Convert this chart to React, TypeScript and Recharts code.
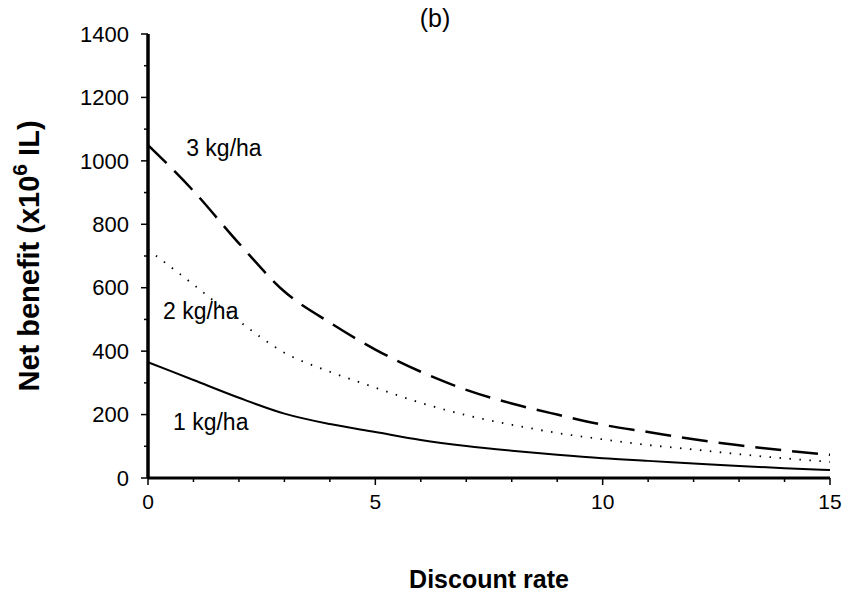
import React from 'react';
import { LineChart, Line, XAxis, YAxis, ReferenceDot } from 'recharts';

// discount rate (%)
const rates = [0, 1, 2, 3, 4, 5, 6, 7, 8, 9, 10, 11, 12, 13, 14, 15];
// net benefit (x10^6 IL) for each application rate
const oneKg = [365, 309, 253, 203, 170, 145, 120, 101, 86, 73, 62, 54, 46, 38, 31, 25];
const twoKg = [720, 610, 495, 395, 335, 285, 237, 198, 168, 142, 122, 104, 90, 75, 62, 51];
const threeKg = [1050, 905, 740, 588, 490, 405, 335, 278, 235, 200, 168, 145, 122, 103, 87, 73];

// all tick positions; labels only on the major ones
const xTicks = [0, 1, 2, 3, 4, 5, 6, 7, 8, 9, 10, 11, 12, 13, 14, 15];
const xLabelled = [0, 5, 10, 15];
const yTicks = [0, 100, 200, 300, 400, 500, 600, 700, 800, 900, 1000, 1100, 1200, 1300, 1400];
const yLabelled = [0, 200, 400, 600, 800, 1000, 1200, 1400];

const curveLabels = [
  { text: '3 kg/ha', x: 0.84, y: 1040 },
  { text: '2 kg/ha', x: 0.33, y: 527 },
  { text: '1 kg/ha', x: 0.55, y: 177 },
];

const FONT = 'Arial, "Liberation Sans", sans-serif';

const data = rates.map((r, i) => ({
  rate: r,
  one: oneKg[i],
  two: twoKg[i],
  three: threeKg[i],
}));

const XTick = (props: any) => {
  const { x, y, payload } = props;
  const major = xLabelled.includes(payload.value);
  return (
    <g>
      <line x1={x} y1={y} x2={x} y2={y + (major ? 7 : 4)} stroke="#000" strokeWidth={1.5} />
      {major && (
        <text x={x} y={y + 24} dy="0.35em" textAnchor="middle" fontFamily={FONT} fontSize={21} fill="#000">
          {payload.value}
        </text>
      )}
    </g>
  );
};

const YTick = (props: any) => {
  const { x, y, payload } = props;
  const major = yLabelled.includes(payload.value);
  return (
    <g>
      <line x1={x} y1={y} x2={x - (major ? 7 : 4)} y2={y} stroke="#000" strokeWidth={1.5} />
      {major && (
        <text x={x - 19} y={y} dy="0.35em" textAnchor="end" fontFamily={FONT} fontSize={22} fill="#000">
          {payload.value}
        </text>
      )}
    </g>
  );
};

const CurveLabel = (props: any) => {
  const { viewBox, value } = props;
  const x = viewBox.x + viewBox.width / 2;
  const y = viewBox.y + viewBox.height / 2;
  return (
    <text x={x} y={y} dy="0.35em" textAnchor="start" fontFamily={FONT} fontSize={23} fill="#000">
      {value}
    </text>
  );
};

const YTitle = (props: any) => {
  const { viewBox } = props;
  const cx = 29;
  const cy = viewBox.y + viewBox.height / 2;
  return (
    <text
      x={cx}
      y={cy}
      transform={`rotate(-90, ${cx}, ${cy})`}
      textAnchor="middle"
      dominantBaseline="central"
      fontFamily={FONT}
      fontWeight="bold"
      fontSize={29}
      fill="#000"
    >
      Net benefit (x10
      <tspan dy={-10} fontSize={21}>6</tspan>
      <tspan dy={10}> IL)</tspan>
    </text>
  );
};

export default function App() {
  return (
    <div style={{ position: 'absolute', left: 0, top: 0, width: 847, height: 596, background: '#fff' }}>
      <div
        style={{
          position: 'absolute',
          left: 435,
          top: 18,
          transform: 'translate(-50%, -50%)',
          fontFamily: FONT,
          fontSize: 25,
        }}
      >
        (b)
      </div>
      <LineChart
        width={847}
        height={596}
        data={data}
        margin={{ top: 34, right: 17, bottom: 0, left: 0 }}
      >
        <XAxis
          dataKey="rate"
          type="number"
          domain={[0, 15]}
          ticks={xTicks}
          interval={0}
          height={118}
          tickSize={0}
          tickMargin={0}
          axisLine={{ stroke: '#000', strokeWidth: 3 }}
          tickLine={false}
          tick={<XTick />}
          label={{
            value: 'Discount rate',
            position: 'insideBottom',
            offset: 8,
            fill: '#000',
            fontSize: 25,
            fontWeight: 'bold',
            fontFamily: FONT,
          }}
        />
        <YAxis
          type="number"
          domain={[0, 1400]}
          ticks={yTicks}
          interval={0}
          width={148}
          tickSize={0}
          tickMargin={0}
          axisLine={{ stroke: '#000', strokeWidth: 3.5 }}
          tickLine={false}
          tick={<YTick />}
          label={<YTitle />}
        />
        <Line
          type="monotone"
          dataKey="one"
          stroke="#000"
          strokeWidth={2}
          dot={false}
          isAnimationActive={false}
        />
        <Line
          type="monotone"
          dataKey="two"
          stroke="#000"
          strokeWidth={1.8}
          strokeDasharray="1.5 8.5"
          dot={false}
          isAnimationActive={false}
        />
        <Line
          type="monotone"
          dataKey="three"
          stroke="#000"
          strokeWidth={2.5}
          strokeDasharray="26 11"
          dot={false}
          isAnimationActive={false}
        />
        {curveLabels.map((l) => (
          <ReferenceDot
            key={l.text}
            x={l.x}
            y={l.y}
            r={1}
            fill="none"
            stroke="none"
            label={<CurveLabel value={l.text} />}
          />
        ))}
      </LineChart>
    </div>
  );
}
